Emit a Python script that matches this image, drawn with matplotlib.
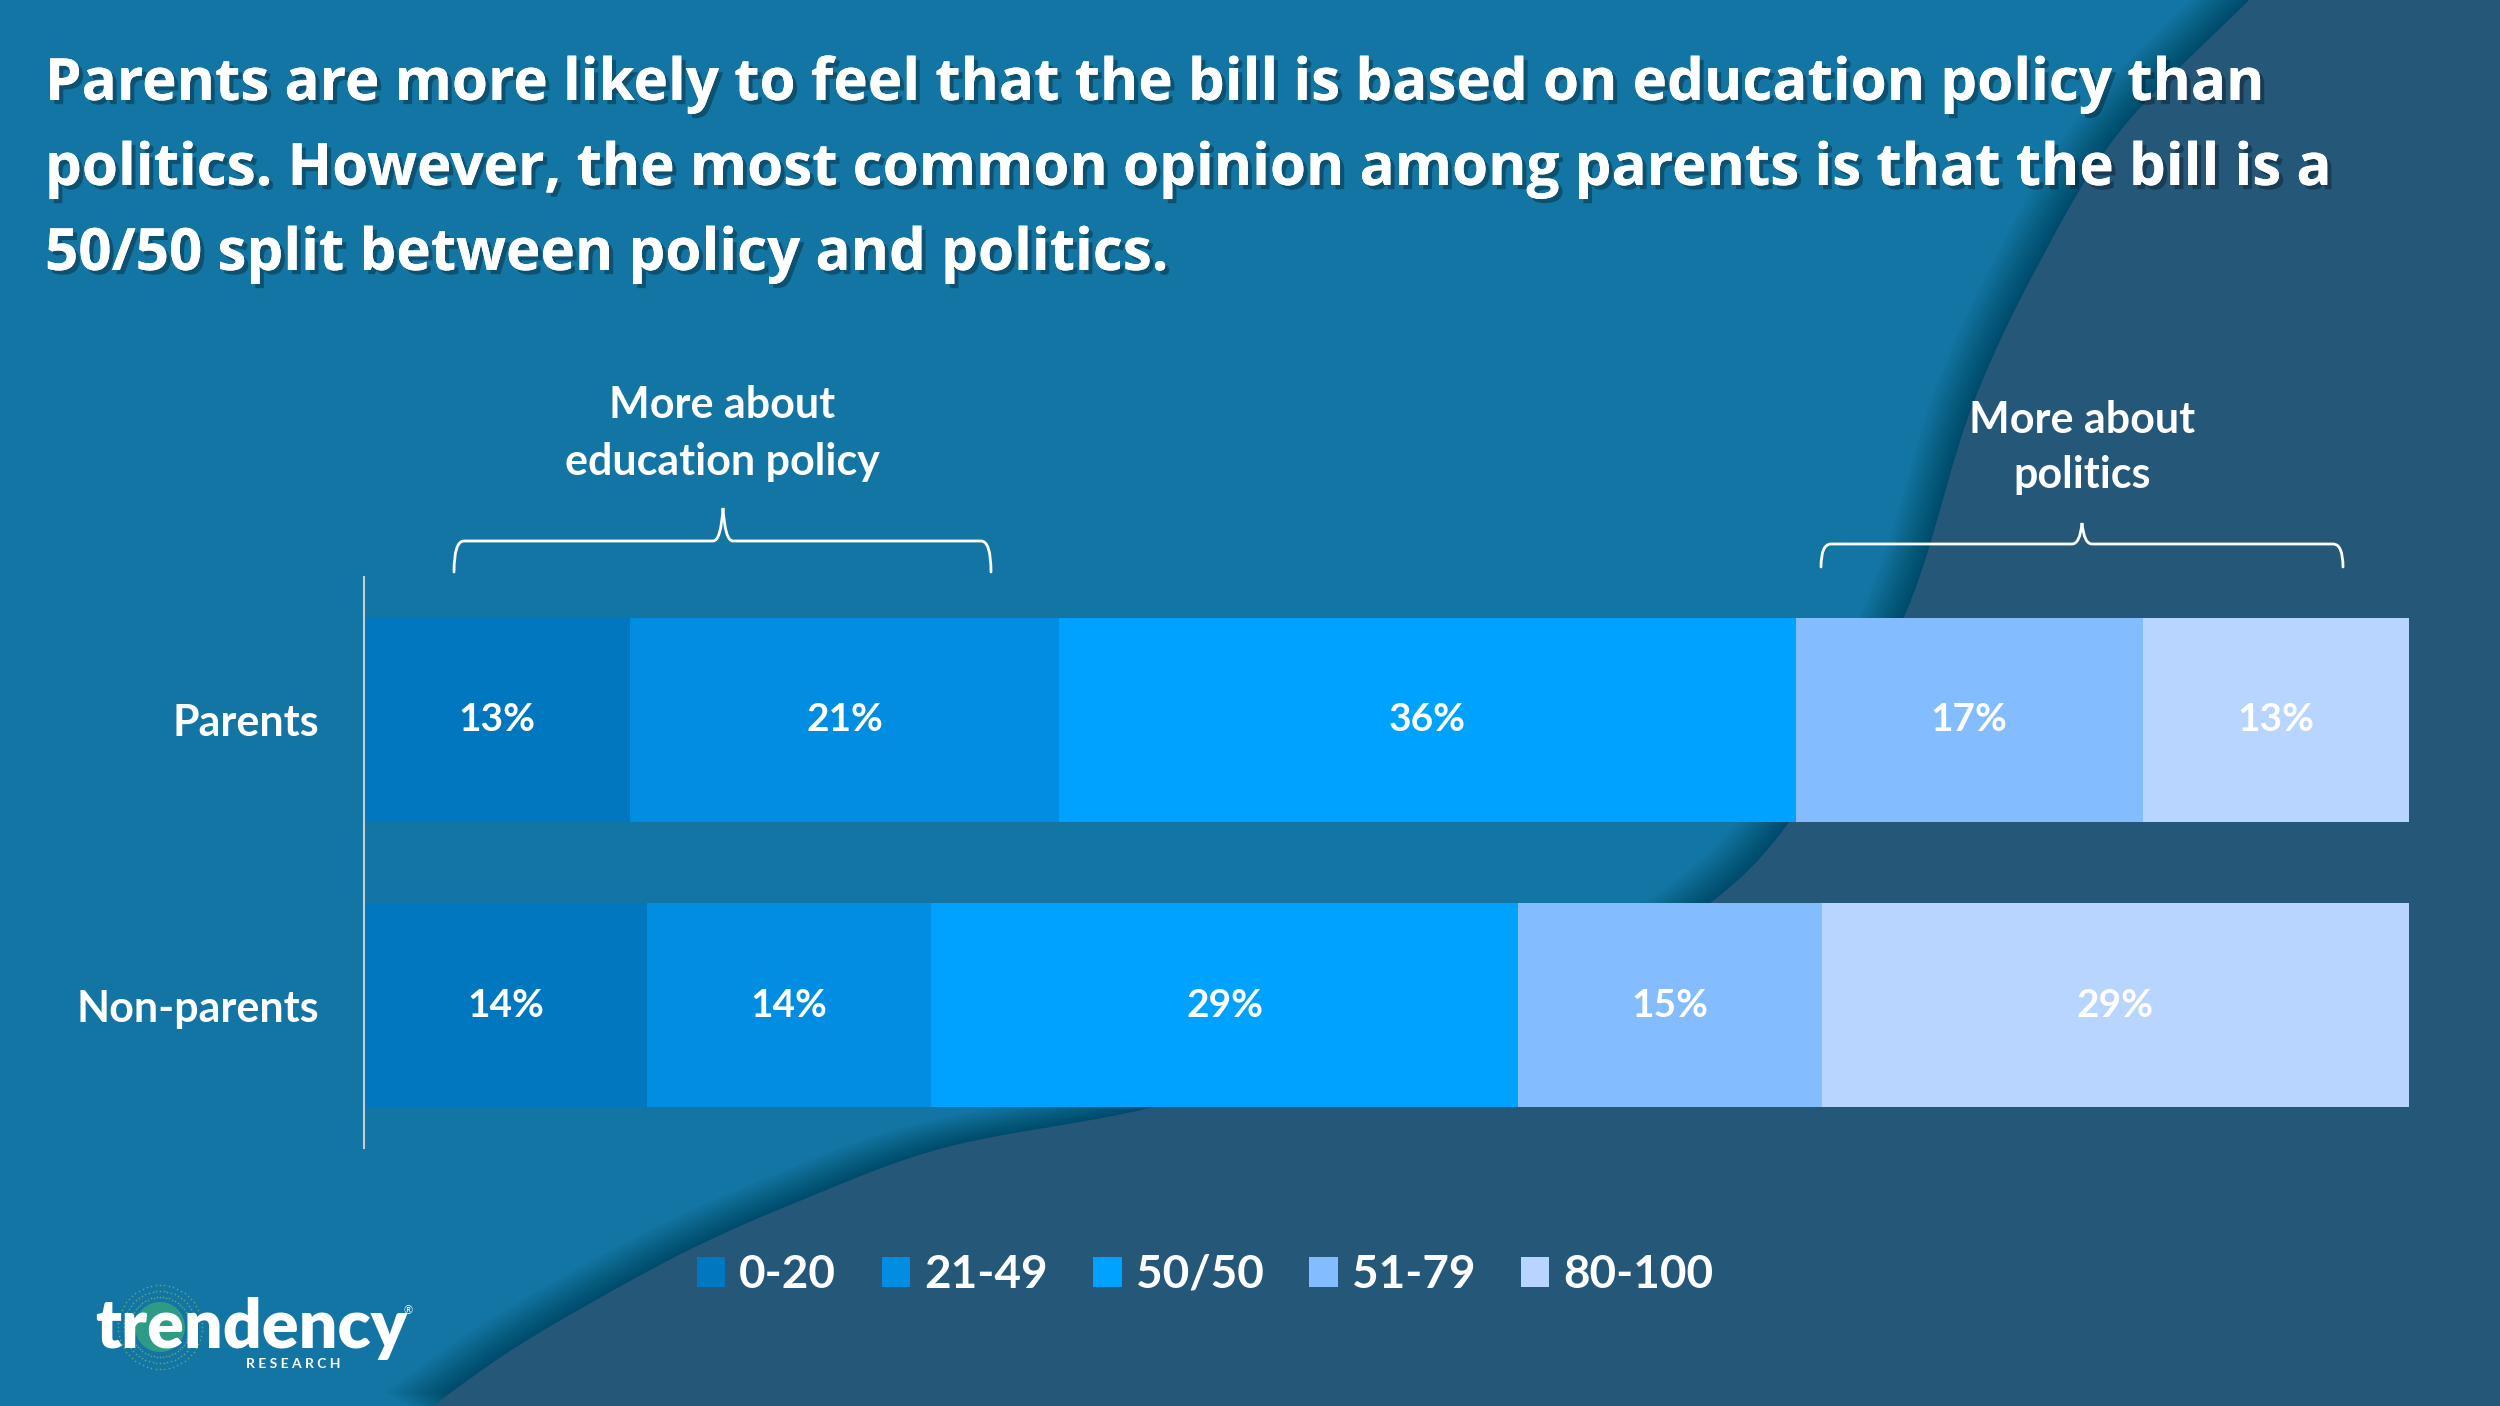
import numpy as np
import matplotlib
matplotlib.use("Agg")
import matplotlib.pyplot as plt
from matplotlib.path import Path
from matplotlib.patches import PathPatch, Polygon, Patch, Circle
import matplotlib.patheffects as pe

W, H = 2500, 1406

# chart data
groups = ["Parents", "Non-parents"]
bins = ["0-20", "21-49", "50/50", "51-79", "80-100"]
parents = [13, 21, 36, 17, 13]
non_parents = [14, 14, 29, 15, 29]
colors = ["#0077BE", "#008DE2", "#00A2FF", "#83BCFF", "#B7D5FF"]

title_lines = [
    "Parents are more likely to feel that the bill is based on education policy than",
    "politics. However, the most common opinion among parents is that the bill is a",
    "50/50 split between policy and politics.",
]

LIGHT = "#1375A3"
DARK = "#255779"
LABEL_FONT = "Lato"
TITLE_FONT = "Open Sans"

fig = plt.figure(figsize=(W / 100, H / 100), dpi=100)
fig.patch.set_facecolor(LIGHT)

# background wave (pixel coordinates)
bg = fig.add_axes([0, 0, 1, 1], zorder=-10)
bg.set_xlim(0, W)
bg.set_ylim(H, 0)
bg.axis("off")


def catmull(points, n=40, alpha=0.5):
    # centripetal Catmull-Rom, only used for the decorative background edge
    P = np.array(points, float)
    P = np.vstack([2 * P[0] - P[1], P, 2 * P[-1] - P[-2]])
    out = []
    for i in range(len(P) - 3):
        p0, p1, p2, p3 = P[i:i + 4]
        t0 = 0.0
        t1 = t0 + np.linalg.norm(p1 - p0) ** alpha
        t2 = t1 + np.linalg.norm(p2 - p1) ** alpha
        t3 = t2 + np.linalg.norm(p3 - p2) ** alpha
        t = np.linspace(t1, t2, n, endpoint=False)[:, None]
        a1 = (t1 - t) / (t1 - t0) * p0 + (t - t0) / (t1 - t0) * p1
        a2 = (t2 - t) / (t2 - t1) * p1 + (t - t1) / (t2 - t1) * p2
        a3 = (t3 - t) / (t3 - t2) * p2 + (t - t2) / (t3 - t2) * p3
        b1 = (t2 - t) / (t2 - t0) * a1 + (t - t0) / (t2 - t0) * a2
        b2 = (t3 - t) / (t3 - t1) * a2 + (t - t1) / (t3 - t1) * a3
        out.append((t2 - t) / (t2 - t1) * b1 + (t - t1) / (t2 - t1) * b2)
    out.append(P[-2][None])
    return np.vstack(out)


edge = catmull([(2254, -5), (2117, 135), (2036, 269), (1973, 404), (1904, 617),
                (1790, 821), (1710, 903), (1512, 1012), (1150, 1108), (936, 1150),
                (802, 1200), (695, 1247), (596, 1300), (507, 1353), (420, 1415)])
shape = np.vstack([edge, [(W + 20, H + 20), (W + 20, -20)]])

# soft shadow on the light side of the edge
direction = np.array([-0.85, -0.53])
for d in np.arange(2, 44, 2):
    bg.add_patch(Polygon(shape + direction * d, closed=True, facecolor="black",
                         edgecolor="none", alpha=0.016))
bg.add_patch(Polygon(shape, closed=True, facecolor=DARK, edgecolor="none"))


def brace(x0, x1, xm, y, tip_y, end_y):
    verts = [(x0, end_y), (x0, y), (x0 + 10, y), (xm - 10, y),
             (xm - 2, y), (xm, tip_y), (xm + 2, y), (xm + 10, y),
             (x1 - 10, y), (x1, y), (x1, end_y)]
    codes = [Path.MOVETO, Path.CURVE3, Path.CURVE3, Path.LINETO,
             Path.CURVE3, Path.CURVE3, Path.CURVE3, Path.CURVE3,
             Path.LINETO, Path.CURVE3, Path.CURVE3]
    bg.add_patch(PathPatch(Path(verts, codes), facecolor="none",
                           edgecolor="white", lw=2.0, capstyle="round"))


brace(454, 991, 723, 541, 508, 572)
brace(1821, 2343, 2082, 544, 523, 567)

lbl = dict(color="white", fontfamily=LABEL_FONT, fontweight="bold",
           fontsize=31, ha="center", va="baseline")
bg.text(722, 418, "More about", **lbl)
bg.text(722, 475, "education policy", **lbl)
bg.text(2082, 433, "More about", **lbl)
bg.text(2082, 488, "politics", **lbl)

# title
shadow = [pe.withSimplePatchShadow(offset=(3, -3), shadow_rgbFace="black", alpha=0.3),
          pe.Normal()]
for line, yb in zip(title_lines, [100, 185, 270]):
    bg.text(45, yb, line, color="white", fontfamily=TITLE_FONT, fontweight="bold",
            fontsize=42, ha="left", va="baseline", path_effects=shadow)

# bar chart
ax = fig.add_axes([364 / W, 1 - 1148 / H, (2409 - 364) / W, 571 / H])
ax.set_facecolor("none")
rows = [parents, non_parents]
ypos = np.arange(len(groups))
lefts = np.zeros(len(groups))
for j, b in enumerate(bins):
    vals = np.array([r[j] for r in rows], float)
    totals = np.array([sum(r) for r in rows], float)
    widths = vals / totals * 100
    bars = ax.barh(ypos, widths, left=lefts, height=0.714, color=colors[j],
                   edgecolor="none", label=b)
    ax.bar_label(bars, labels=[f"{int(v)}%" for v in vals], label_type="center",
                 color="white", fontfamily=LABEL_FONT, fontweight="bold", fontsize=28)
    lefts += widths

ax.set_xlim(0, 100)
ax.set_ylim(1.5, -0.5)
ax.set_yticks(ypos)
ax.set_yticklabels(groups, color="white", fontfamily=LABEL_FONT,
                   fontweight="bold", fontsize=31)
ax.tick_params(axis="y", length=0, pad=32)
ax.set_xticks([])
for s in ["top", "right", "bottom"]:
    ax.spines[s].set_visible(False)
ax.spines["left"].set_color("#C4CED6")
ax.spines["left"].set_linewidth(1.5)

# legend
handles = [Patch(facecolor=c, edgecolor="none") for c in colors]
fig.legend(handles, bins, loc="center", bbox_to_anchor=(1205 / W, 1 - 1275 / H),
           ncol=5, frameon=False, labelcolor="white",
           prop=dict(family=LABEL_FONT, weight="bold", size=33),
           handlelength=0.62, handleheight=0.62, handletextpad=0.3,
           columnspacing=1.0)

# logo
theta = np.linspace(0, 2 * np.pi, 60, endpoint=False)
for r in [30, 36, 42]:
    bg.scatter(160 + r * np.cos(theta), 1327 + r * np.sin(theta), s=1.5,
               color="#8CC66A", alpha=0.6, linewidths=0)
bg.add_patch(Circle((160, 1327), 25, facecolor="#2E9B86", edgecolor="none"))
bg.text(95, 1348, "trendency", color="white", fontfamily=LABEL_FONT,
        fontweight="heavy", fontsize=49, ha="left", va="baseline")
bg.text(246, 1368, "R E S E A R C H", color="white", fontfamily=LABEL_FONT,
        fontweight="bold", fontsize=10, ha="left", va="baseline")
bg.text(404, 1314, "®", color="white", fontfamily=LABEL_FONT, fontsize=8,
        ha="left", va="baseline")

fig.savefig("out.png", dpi=100, facecolor=fig.get_facecolor())
